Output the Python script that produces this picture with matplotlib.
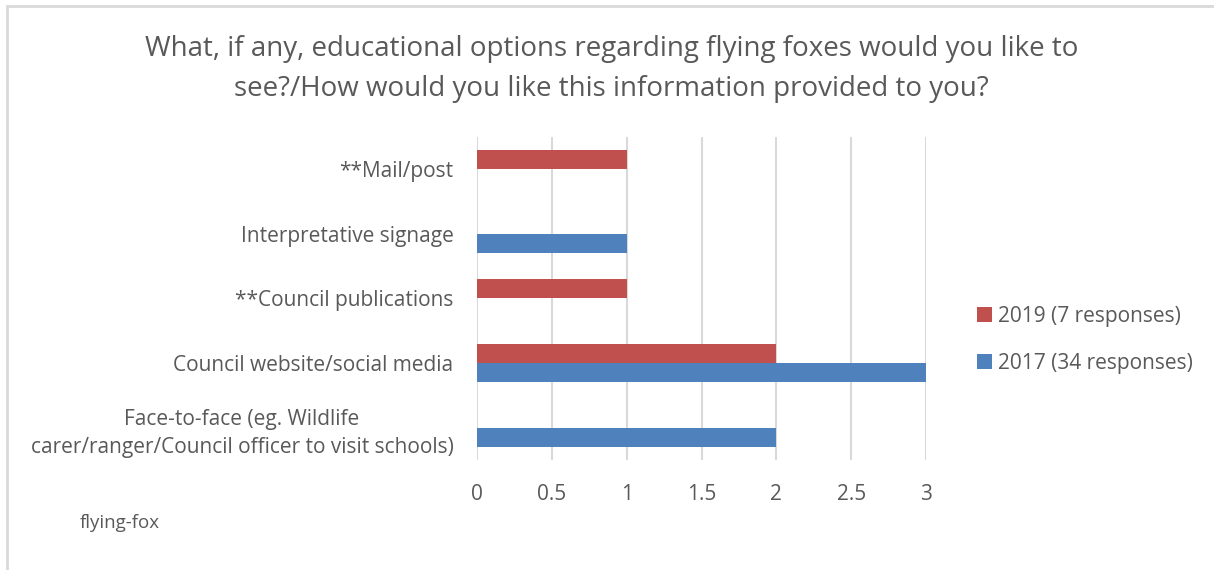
import matplotlib.pyplot as plt
import numpy as np
from matplotlib.patches import Rectangle

categories = ['Face-to-face (eg. Wildlife\ncarer/ranger/Council officer to visit schools)',
              'Council website/social media',
              '**Council publications',
              'Interpretative signage',
              '**Mail/post']
vals_2019 = [0, 2, 1, 0, 1]
vals_2017 = [2, 3, 0, 1, 0]
series_labels = ['2019 (7 responses)', '2017 (34 responses)']
xticks = [0, 0.5, 1, 1.5, 2, 2.5, 3]

plt.rcParams['font.family'] = ['Open Sans', 'DejaVu Sans']
text_color = '#595959'

fig = plt.figure(figsize=(12.14, 5.7), dpi=100)
ax = fig.add_axes([477 / 1214, 1 - 460 / 570, (926 - 477) / 1214, (460 - 137) / 570])

# Light chart border (left and top visible)
fig.patches.append(Rectangle((7 / 1214, -0.1), 1.2, 1 - 5.5 / 570 + 0.1,
                             transform=fig.transFigure, fill=False,
                             edgecolor='#d9d9d9', linewidth=2))

y = np.arange(len(categories))
h = 0.295
ax.barh(y + h / 2, vals_2019, height=h, color='#C0504D', label=series_labels[0], zorder=3)
ax.barh(y - h / 2, vals_2017, height=h, color='#4F81BD', label=series_labels[1], zorder=3)

ax.set_xlim(0, 3)
ax.set_ylim(-0.5, len(categories) - 0.5)
ax.set_xticks(xticks)
ax.set_xticklabels(['0', '0.5', '1', '1.5', '2', '2.5', '3'])
ax.set_yticks(y)
ax.set_yticklabels(categories, ha='right', multialignment='center', linespacing=1.45)
ax.tick_params(axis='both', length=0, colors=text_color, labelsize=15)
ax.tick_params(axis='x', pad=17)
ax.tick_params(axis='y', pad=17)
ax.grid(axis='x', color='#d9d9d9', linewidth=1.5, zorder=0)
for s in ax.spines.values():
    s.set_visible(False)

fig.text(611.5 / 1214, 1 - 69 / 570,
         'What, if any, educational options regarding flying foxes would you like to\n'
         'see?/How would you like this information provided to you?',
         ha='center', va='center', fontsize=20, color=text_color, linespacing=1.55)

handles, labels = ax.get_legend_handles_labels()
fig.legend(handles, labels, loc='center left', bbox_to_anchor=(0.789, 1 - 340 / 570),
           frameon=False, fontsize=15, labelcolor=text_color,
           handlelength=0.75, handleheight=0.75, handletextpad=0.3, labelspacing=1.25)

fig.text(80 / 1214, 1 - 523 / 570, 'flying-fox', fontsize=13.5, color=text_color,
         va='center')

fig.savefig('out.png', dpi=100)
